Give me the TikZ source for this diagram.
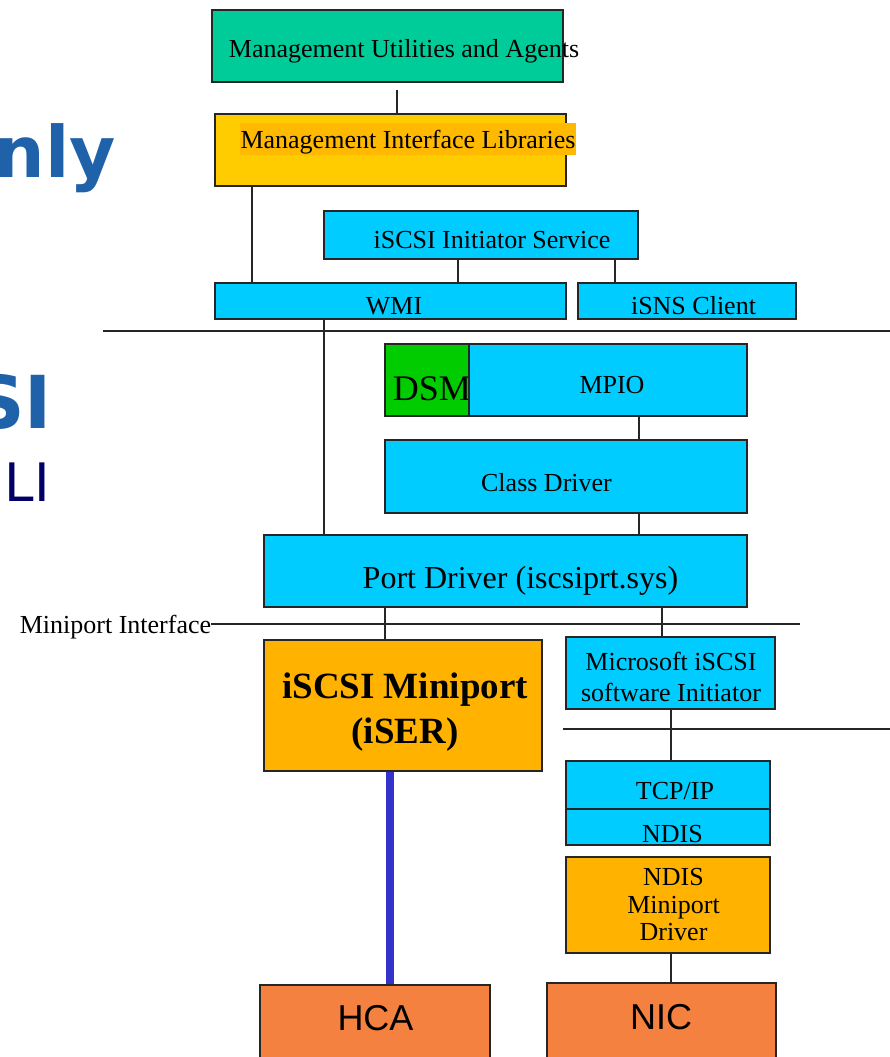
\documentclass[tikz,border=0pt]{standalone}
\usepackage{fontspec}
\setmainfont{Liberation Serif}
\newfontfamily\arialfont{Liberation Sans}
\newfontfamily\titlefont{DejaVu Sans}
\usepackage{xcolor}

\definecolor{mgmtgreen}{HTML}{00CC99}
\definecolor{libyellow}{HTML}{FFCC00}
\definecolor{libhl}{HTML}{FFB900}
\definecolor{drvcyan}{HTML}{00CCFF}
\definecolor{dsmgreen}{HTML}{00CC00}
\definecolor{miniorange}{HTML}{FFB300}
\definecolor{hworange}{HTML}{F58140}
\definecolor{iserblue}{HTML}{3333CC}
\definecolor{titleblue}{HTML}{1F62A9}
\definecolor{titlenavy}{HTML}{000066}

\tikzset{
  layer/.style={draw=black!85, line width=1.4pt, inner sep=0pt},
  cyanlayer/.style={layer, fill=drvcyan},
  wire/.style={draw=black!85, line width=1.3pt},
  txt/.style={inner sep=0pt, anchor=base, font=\fontsize{26}{31}\selectfont},
}

\begin{document}
\begin{tikzpicture}[x=1pt,y=-1pt]
  \useasboundingbox (0,0) rectangle (890,1057);
  \clip (0,0) rectangle (890,1057);

  % left-over slide title
  \node[anchor=base east, inner sep=0pt, text=titleblue, font=\titlefont\bfseries\fontsize{71}{80}\selectfont] (ttlA) at (116,177) {nly};
  \node[anchor=base east, inner sep=0pt, text=titleblue, font=\titlefont\bfseries\fontsize{73}{80}\selectfont] (ttlB) at (52,428) {SI};
  \node[anchor=base east, inner sep=0pt, text=titlenavy, font=\titlefont\fontsize{53}{60}\selectfont] (ttlC) at (50,501) {LI};

  % user mode
  \node[layer, fill=mgmtgreen, minimum width=351, minimum height=72] (mua) at (387.5,46) {};
  \node[txt] (muaT) at (404,57) {Management Utilities and Agents};
  \node[layer, fill=libyellow, minimum width=351, minimum height=72] (mil) at (390.5,150) {};
  \node[txt, fill=libhl, inner xsep=1pt, text height=25pt, text depth=7pt] (milT) at (408,148) {Management Interface Libraries};
  \node[cyanlayer, minimum width=314, minimum height=48] (isv) at (481,235) {};
  \node[txt] (isvT) at (492,248) {iSCSI Initiator Service};
  \node[cyanlayer, minimum width=351, minimum height=36] (wmi) at (390.5,301) {};
  \node[txt] (wmiT) at (394,314) {WMI};
  \node[cyanlayer, minimum width=218, minimum height=36] (isns) at (687,301) {};
  \node[txt] (isnsT) at (693.5,314) {iSNS Client};

  % kernel mode
  \node[layer, fill=dsmgreen, minimum width=84, minimum height=72] (dsm) at (427,380) {};
  \node[txt, font=\fontsize{36}{40}\selectfont] (dsmT) at (432,400) {DSM};
  \node[cyanlayer, minimum width=278, minimum height=72] (mpio) at (608,380) {};
  \node[txt] (mpioT) at (612,393) {MPIO};
  \node[cyanlayer, minimum width=362, minimum height=73] (cls) at (566,476.5) {};
  \node[txt] (clsT) at (546.5,491) {Class Driver};
  \node[cyanlayer, minimum width=483, minimum height=72] (port) at (505.5,571) {};
  \node[txt, font=\fontsize{32}{36}\selectfont] (portT) at (520.5,588) {Port Driver (iscsiprt.sys)};
  \node[txt] (mpiT) at (115.5,633) {Miniport Interface};

  \node[layer, fill=miniorange, minimum width=278, minimum height=131] (mini) at (403,705.5) {};
  \node[txt, align=center, font=\bfseries\fontsize{37}{45}\selectfont] (miniT) at (405,743) {iSCSI Miniport\\(iSER)};
  \node[cyanlayer, minimum width=209, minimum height=72] (msi) at (670.5,673) {};
  \node[txt, align=center, font=\fontsize{26}{31.5}\selectfont] (msiT) at (671,701.5) {Microsoft iSCSI\\software Initiator};
  \node[cyanlayer, minimum width=204, minimum height=48] (tcp) at (668,785) {};
  \node[txt] (tcpT) at (675,799) {TCP/IP};
  \node[cyanlayer, minimum width=204, minimum height=36] (ndis) at (668,827) {};
  \node[txt] (ndisT) at (672.5,842) {NDIS};
  \node[layer, fill=miniorange, minimum width=204, minimum height=96] (ndm) at (668,905) {};
  \node[txt, align=center, font=\fontsize{26}{27.5}\selectfont] (ndmT) at (673.5,940.5) {NDIS\\Miniport\\Driver};

  % hardware
  \node[layer, fill=hworange, minimum width=230, minimum height=85] (hca) at (375,1027.5) {};
  \node[txt, font=\arialfont\fontsize{36}{40}\selectfont] (hcaT) at (375.5,1030) {HCA};
  \node[layer, fill=hworange, minimum width=229, minimum height=87] (nic) at (661.5,1026.5) {};
  \node[txt, font=\arialfont\fontsize{36}{40}\selectfont] (nicT) at (661,1029) {NIC};

  % where the wires run
  \coordinate (xMua) at (397,0);
  \coordinate (xMil) at (252,0);
  \coordinate (xIsv) at (458,0);
  \coordinate (xIsns) at (615,0);
  \coordinate (xWmi) at (324,0);
  \coordinate (xCls) at (639,0);
  \coordinate (xMini) at (385,0);
  \coordinate (xMsi) at (662,0);
  \coordinate (xTcp) at (671,0);
  \coordinate (xIser) at (390,0);
  \coordinate (userL) at (103,331);
  \coordinate (userR) at (890,331);
  \coordinate (mpiR) at (800,624);
  \coordinate (tdiL) at (563,729);
  \coordinate (tdiR) at (890,729);

  \draw[wire] ([yshift=-7pt]mua.south -| xMua) -- (mil.north -| xMua);
  \draw[wire] (mil.south -| xMil) -- (wmi.north -| xMil);
  \draw[wire] (isv.south -| xIsv) -- (wmi.north -| xIsv);
  \draw[wire] (isv.south -| xIsns) -- (isns.north -| xIsns);
  \draw[wire] (wmi.south -| xWmi) -- (port.north -| xWmi);
  \draw[wire] (mpio.south -| xCls) -- (cls.north -| xCls);
  \draw[wire] (cls.south -| xCls) -- (port.north -| xCls);
  \draw[wire] (port.south -| xMini) -- (mini.north -| xMini);
  \draw[wire] (port.south -| xMsi) -- (msi.north -| xMsi);
  \draw[wire] (msi.south -| xTcp) -- (tcp.north -| xTcp);
  \draw[wire] (ndm.south -| xTcp) -- (nic.north -| xTcp);
  \draw[line width=8pt, iserblue] (mini.south -| xIser) -- (hca.north -| xIser);

  \draw[wire] (userL) -- (userR);
  \draw[wire] (mpiT.east |- mpiR) -- (mpiR);
  \draw[wire] (tdiL) -- (tdiR);
\end{tikzpicture}
\end{document}
